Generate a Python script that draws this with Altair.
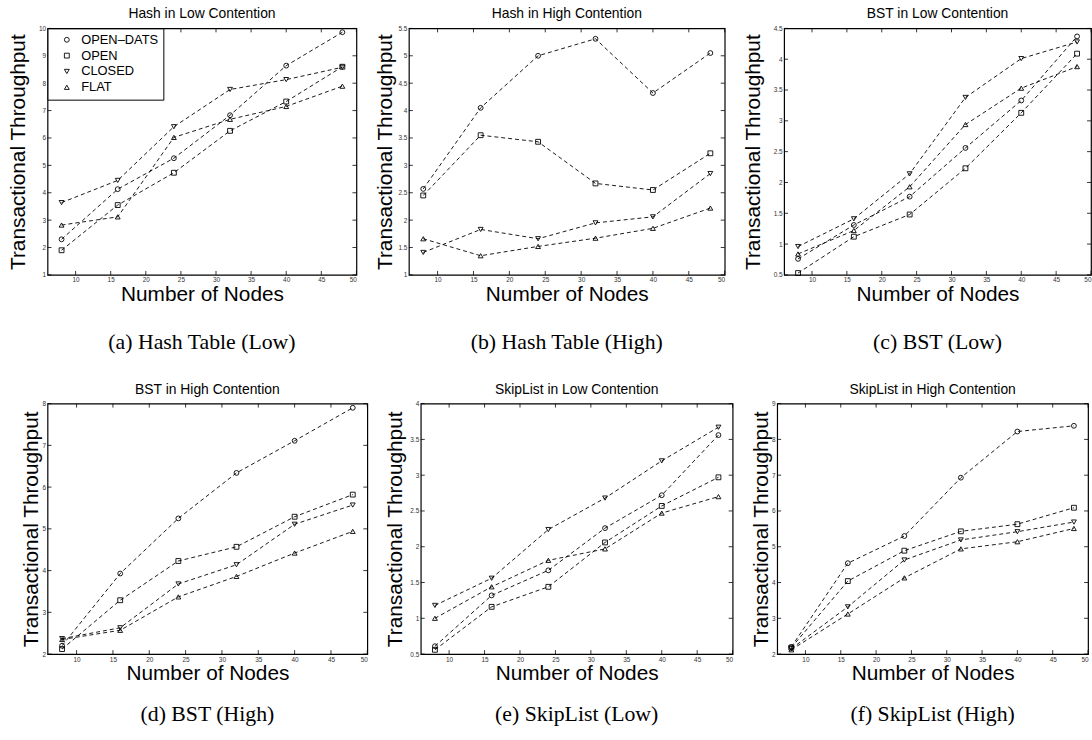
import altair as alt
import pandas as pd

nodes = [8, 16, 24, 32, 40, 48]
series = ["OPEN–DATS", "OPEN", "CLOSED", "FLAT"]
shapes = ["circle", "square", "triangle-down", "triangle-up"]
x_ticks = [10, 15, 20, 25, 30, 35, 40, 45, 50]
x_domain = [6, 50]

titles = ["Hash in Low Contention", "Hash in High Contention", "BST in Low Contention",
          "BST in High Contention", "SkipList in Low Contention", "SkipList in High Contention"]
captions = ["(a)  Hash Table (Low)", "(b)  Hash Table (High)", "(c)  BST (Low)",
            "(d)  BST (High)", "(e)  SkipList (Low)", "(f)  SkipList (High)"]
y_domains = [[1, 10], [1, 5.5], [0.5, 4.5], [2, 8], [0.5, 4], [2, 9]]
y_ticks = [
    [1, 2, 3, 4, 5, 6, 7, 8, 9, 10],
    [1, 1.5, 2, 2.5, 3, 3.5, 4, 4.5, 5, 5.5],
    [0.5, 1, 1.5, 2, 2.5, 3, 3.5, 4, 4.5],
    [2, 3, 4, 5, 6, 7, 8],
    [0.5, 1, 1.5, 2, 2.5, 3, 3.5, 4],
    [2, 3, 4, 5, 6, 7, 8, 9],
]

hash_low = {
    "OPEN–DATS": [2.30, 4.13, 5.26, 6.83, 8.64, 9.86],
    "OPEN": [1.90, 3.55, 4.73, 6.26, 7.33, 8.60],
    "CLOSED": [3.64, 4.45, 6.41, 7.77, 8.13, 8.58],
    "FLAT": [2.82, 3.12, 6.02, 6.68, 7.15, 7.89],
}
hash_high = {
    "OPEN–DATS": [2.57, 4.05, 5.00, 5.31, 4.32, 5.05],
    "OPEN": [2.45, 3.55, 3.43, 2.67, 2.55, 3.22],
    "CLOSED": [1.41, 1.83, 1.66, 1.95, 2.06, 2.85],
    "FLAT": [1.66, 1.35, 1.52, 1.67, 1.85, 2.22],
}
bst_low = {
    "OPEN–DATS": [0.76, 1.31, 1.77, 2.56, 3.33, 4.37],
    "OPEN": [0.53, 1.12, 1.48, 2.23, 3.13, 4.09],
    "CLOSED": [0.96, 1.41, 2.14, 3.38, 4.01, 4.28],
    "FLAT": [0.84, 1.22, 1.93, 2.94, 3.53, 3.88],
}
bst_high = {
    "OPEN–DATS": [2.20, 3.93, 5.25, 6.34, 7.11, 7.90],
    "OPEN": [2.12, 3.29, 4.23, 4.57, 5.29, 5.82],
    "CLOSED": [2.37, 2.63, 3.68, 4.14, 5.11, 5.57],
    "FLAT": [2.35, 2.57, 3.37, 3.86, 4.42, 4.94],
}
skip_low = {
    "OPEN–DATS": [0.61, 1.32, 1.67, 2.26, 2.72, 3.56],
    "OPEN": [0.56, 1.16, 1.44, 2.06, 2.57, 2.97],
    "CLOSED": [1.18, 1.56, 2.24, 2.68, 3.20, 3.67],
    "FLAT": [1.00, 1.44, 1.81, 1.97, 2.47, 2.70],
}
skip_high = {
    "OPEN–DATS": [2.20, 4.54, 5.30, 6.93, 8.22, 8.38],
    "OPEN": [2.18, 4.04, 4.89, 5.43, 5.63, 6.09],
    "CLOSED": [2.15, 3.32, 4.63, 5.19, 5.42, 5.69],
    "FLAT": [2.12, 3.12, 4.13, 4.94, 5.14, 5.51],
}
panels_data = [hash_low, hash_high, bst_low, bst_high, skip_low, skip_high]

widths = [312, 319, 310, 323, 315, 314]
heights = [249, 249, 249, 253, 253, 253]
caption_offsets = [68, 68, 68, 61, 61, 61]
ytitle_pads = [10, 3, 10, 0, 4, 0]
SANS = "Liberation Sans"
SERIF = "Liberation Serif"


def panel(i):
    values = panels_data[i]
    W, H = widths[i], heights[i]
    rows = [{"nodes": n, "series": s, "tp": v}
            for s in series for n, v in zip(nodes, values[s])]
    df = pd.DataFrame(rows)
    xs = alt.Scale(domain=x_domain, nice=False, zero=False)
    ys = alt.Scale(domain=y_domains[i], nice=False, zero=False)
    x = alt.X("nodes:Q", scale=xs,
              axis=alt.Axis(values=x_ticks, title="Number of Nodes", format="~r"))
    y = alt.Y("tp:Q", scale=ys,
              axis=alt.Axis(values=y_ticks[i], title="Transactional Throughput", format="~r",
                            titlePadding=ytitle_pads[i]))
    lines = alt.Chart(df).mark_line(color="black", strokeDash=[4, 3], strokeWidth=0.9).encode(
        x=x, y=y, detail="series:N")
    if i == 0:
        leg = alt.Legend(title=None, orient="top-left", offset=0, padding=5,
                         strokeColor="black", fillColor="white",
                         labelFont=SANS, labelFontSize=13, labelColor="black",
                         symbolSize=24, symbolStrokeColor="black", symbolFillColor="white",
                         symbolStrokeWidth=0.9, rowPadding=2, labelOffset=8, symbolOffset=8)
    else:
        leg = None
    pts = alt.Chart(df).mark_point(filled=False, color="black", size=24, strokeWidth=0.9,
                                   opacity=1).encode(
        x=x, y=y,
        shape=alt.Shape("series:N", scale=alt.Scale(domain=series, range=shapes), legend=leg))
    xt = pd.DataFrame({"nodes": x_ticks})
    yt = pd.DataFrame({"tp": y_ticks[i]})
    tb = alt.Chart(xt).mark_rule(color="black", strokeWidth=0.8).encode(
        x=x, y=alt.value(H), y2=alt.value(H - 4))
    tt = alt.Chart(xt).mark_rule(color="black", strokeWidth=0.8).encode(
        x=x, y=alt.value(0), y2=alt.value(4))
    tl = alt.Chart(yt).mark_rule(color="black", strokeWidth=0.8).encode(
        y=y, x=alt.value(0), x2=alt.value(4))
    tr = alt.Chart(yt).mark_rule(color="black", strokeWidth=0.8).encode(
        y=y, x=alt.value(W), x2=alt.value(W - 4))
    cap = alt.Chart(pd.DataFrame({"c": [captions[i]]})).mark_text(
        font=SERIF, fontSize=22, align="center", baseline="middle", color="black").encode(
        text="c:N", x=alt.value(W / 2), y=alt.value(H + caption_offsets[i]))
    return alt.layer(lines, pts, tb, tt, tl, tr, cap).properties(
        width=W, height=H,
        title=alt.Title(titles[i], font=SANS, fontSize=14, fontWeight="normal", offset=4,
                        color="black"))


charts = [panel(i) for i in range(6)]

row1 = alt.hconcat(*charts[:3], spacing=16)
row2 = alt.hconcat(*charts[3:], spacing=16)
chart = alt.vconcat(row1, row2, spacing=28).resolve_scale(shape="independent").properties(
    padding={"left": 7, "top": 3, "right": 0, "bottom": 0}
).configure_view(stroke="black", strokeWidth=1.2).configure_axis(
    grid=False, ticks=False, domain=False, labelFont=SANS, labelFontSize=6.5,
    labelColor="#333", labelPadding=2, titleFont=SANS, titleFontSize=21,
    titleFontWeight="normal", titleColor="black"
).configure_axisX(titlePadding=0)

chart.save("out.html", embed_options={"renderer": "svg", "actions": False})
